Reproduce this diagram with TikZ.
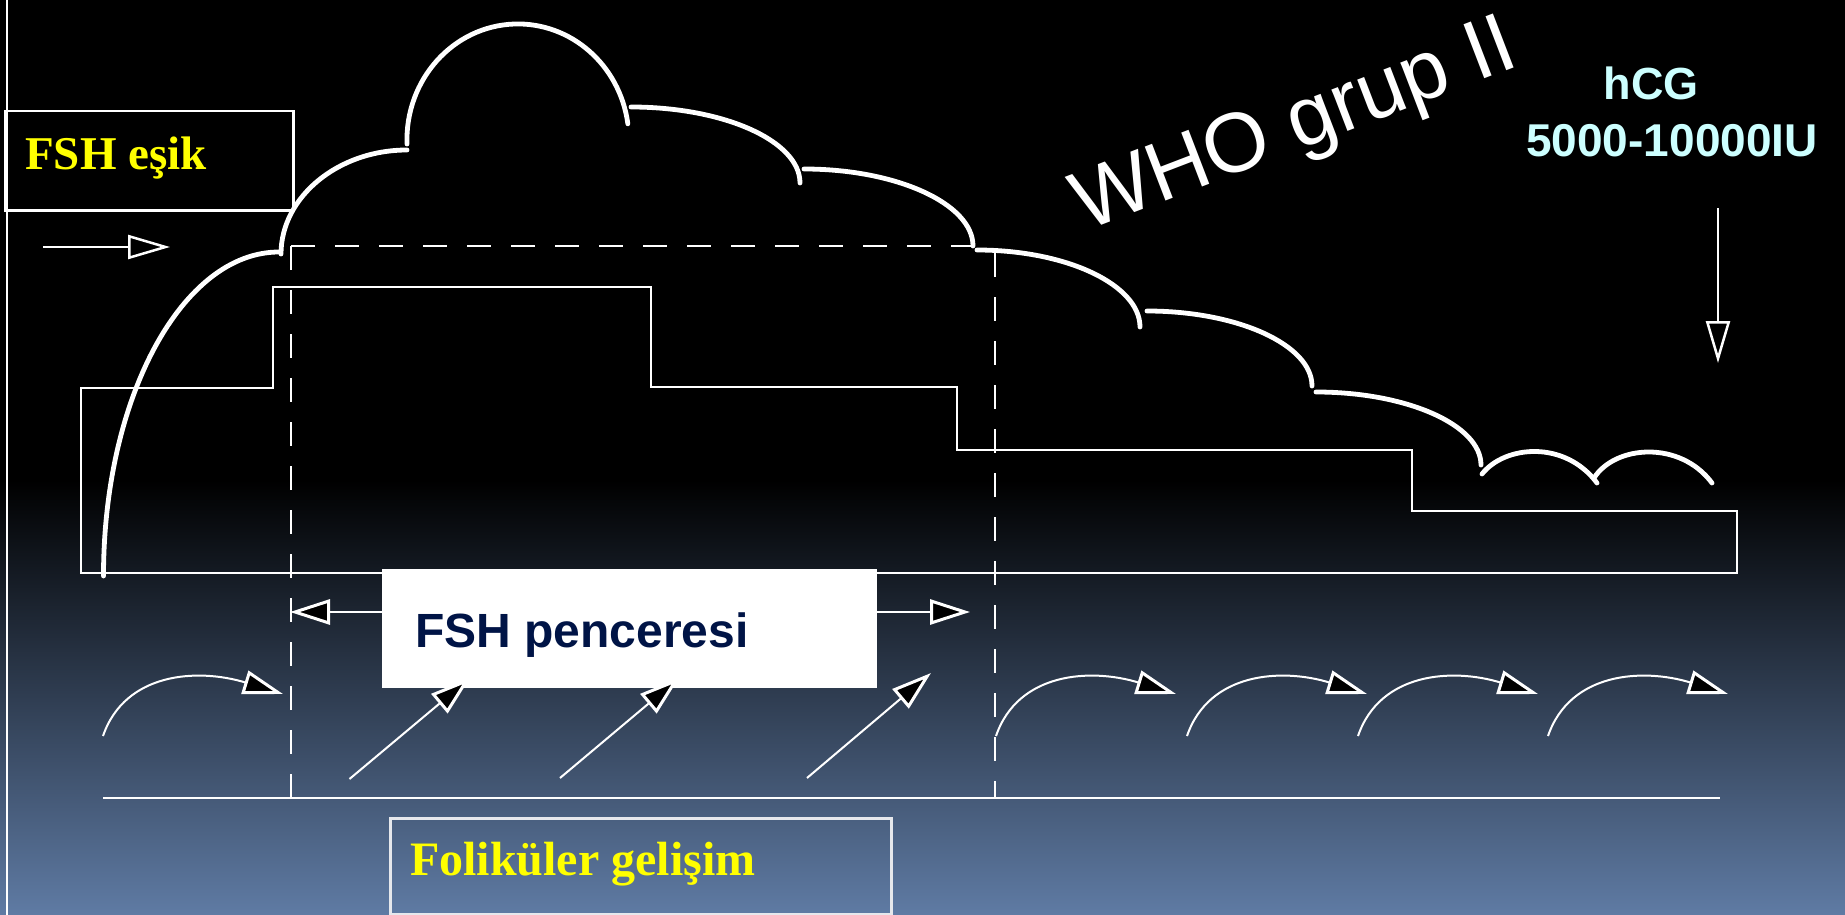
\documentclass[tikz,border=0pt]{standalone}
\usepackage{fontspec}
\setmainfont{Liberation Serif}
\newfontfamily\arial{Liberation Sans}
\usetikzlibrary{arrows.meta}
\definecolor{bgblue}{RGB}{95,123,164}
\definecolor{hcgcyan}{RGB}{204,255,255}
\definecolor{navytext}{RGB}{0,20,70}
\definecolor{yel}{RGB}{255,255,0}
\definecolor{boxgray}{RGB}{230,232,236}
\begin{document}
\begin{tikzpicture}[x=1pt,y=-1pt,
  thinline/.style={white,line width=2pt},
  cloud/.style={white,line width=4.8pt,line cap=round},
  dashline/.style={white,line width=2.5pt,dash pattern=on 24pt off 20pt},
  openarrow/.style={white,line width=2pt,-{Triangle[open,length=42pt,width=24pt,line width=2.5pt]}},
  blackarrow/.style={white,line width=2pt,-{Triangle[length=40pt,width=25pt,fill=black,line width=3pt]}},
  hookarrow/.style={white,line width=2pt,-{Triangle[length=40pt,width=24pt,fill=black,line width=3pt]}},
  serifyellow/.style={anchor=base west,inner sep=0pt,text=yel,font=\bfseries\fontsize{47}{50}\selectfont}]
\useasboundingbox (0,0) rectangle (1845,915);
% background
\fill[black] (0,0) rectangle (1845,481);
\shade[top color=black,bottom color=bgblue] (0,480) rectangle (1845,915);
% left rule
\draw[thinline] (7,0) -- (7,915);
% step function
\draw[thinline] (81,573) -- (81,388) -- (273,388) -- (273,287) -- (651,287) -- (651,387)
  -- (957,387) -- (957,450) -- (1412,450) -- (1412,511) -- (1737,511) -- (1737,573) -- cycle;
% cloud curve
\draw[cloud] (103.5,576) .. controls (103.5,397) and (182.5,252) .. (279,252);
\draw[cloud] (281,254) .. controls (281,197) and (338,150) .. (407,150);
\draw[cloud] (407,144) arc[start angle=182,end angle=8,x radius=111pt,y radius=116pt];
\draw[cloud] (631,107) .. controls (724,107) and (800,141) .. (800,183);
\draw[cloud] (804,169) .. controls (897,169) and (973,204) .. (973,246);
\draw[cloud] (977,250) .. controls (1067,250) and (1140,285) .. (1140,327);
\draw[cloud] (1147,311) .. controls (1238,311) and (1312,345) .. (1312,386);
\draw[cloud] (1316,392) .. controls (1407,392) and (1481,425) .. (1481,465);
\draw[cloud] (1482,474) .. controls (1505,445) and (1565,440) .. (1597,483);
\draw[cloud] (1594,478) .. controls (1615,445) and (1680,440) .. (1712,483);
% dashed window
\coordinate (dtl) at (291,246);
\coordinate (dtr) at (980,246);
\coordinate (dbl) at (291,798);
\coordinate (drt) at (995,253);
\coordinate (dbr) at (995,798);
\draw[dashline] (dtl) -- (dtr);
\draw[dashline] (dtl) -- (dbl);
\draw[dashline] (drt) -- (dbr);
% FSH esik box
\node[draw=white,line width=2.5pt,minimum width=288pt,minimum height=99pt,anchor=north west,inner sep=0pt] (esikbox) at (4,110) {};
\node[serifyellow] (esik) at (25,169) {FSH eşik};
\coordinate (ea) at (43,247);
\coordinate (eb) at (170,247);
\draw[openarrow] (ea) -- (eb);
% WHO label
\node[anchor=base west,inner sep=0pt,rotate=21,text=white,font=\arial\fontsize{84}{86}\selectfont] (who) at (1085,232) {WHO grup II};
% hCG
\node[anchor=base,inner sep=0pt,text=hcgcyan,font=\arial\bfseries\fontsize{45}{48}\selectfont] (hcg) at (1651,100) {hCG};
\node[anchor=base,inner sep=0pt,text=hcgcyan,font=\arial\bfseries\fontsize{46}{48}\selectfont] (dose) at (1672,157) {5000-10000IU};
\coordinate (ha) at (1718,208);
\coordinate (hb) at (1718,363);
\draw[openarrow] (ha) -- (hb);
% FSH penceresi
\node[fill=white,minimum width=495pt,minimum height=119pt,anchor=north west,inner sep=0pt] (penbox) at (382,569) {};
\node[anchor=base west,inner sep=0pt,text=navytext,font=\arial\bfseries\fontsize{48}{50}\selectfont] (pen) at (415,647) {FSH penceresi};
\coordinate (wl) at (290,612);
\coordinate (wr) at (970,612);
\draw[blackarrow] (penbox.west |- wl) -- (wl);
\draw[blackarrow] (penbox.east |- wr) -- (wr);
% diagonal arrows
\coordinate (d1a) at (349.5,779); \coordinate (d1b) at (470,678);
\coordinate (d2a) at (560,778);   \coordinate (d2b) at (679,678);
\coordinate (d3a) at (807,778);   \coordinate (d3b) at (931,673);
\draw[blackarrow] (d1a) -- (d1b);
\draw[blackarrow] (d2a) -- (d2b);
\draw[blackarrow] (d3a) -- (d3b);
% hook arrows
\foreach \x in {103,996,1187,1358,1548}{
  \draw[hookarrow] (\x,736) .. controls (\x+22,672) and (\x+95,668) .. (\x+180,694);
}
% baseline
\coordinate (bl) at (103,798);
\coordinate (br) at (1720,798);
\draw[thinline] (bl) -- (br);
% Folikuler box
\node[draw=boxgray,line width=2.5pt,minimum width=501pt,minimum height=96pt,anchor=north west,inner sep=0pt] (folbox) at (389,817) {};
\node[serifyellow,font=\bfseries\fontsize{48}{50}\selectfont] (fol) at (410,875) {Foliküler gelişim};
\end{tikzpicture}
\end{document}
